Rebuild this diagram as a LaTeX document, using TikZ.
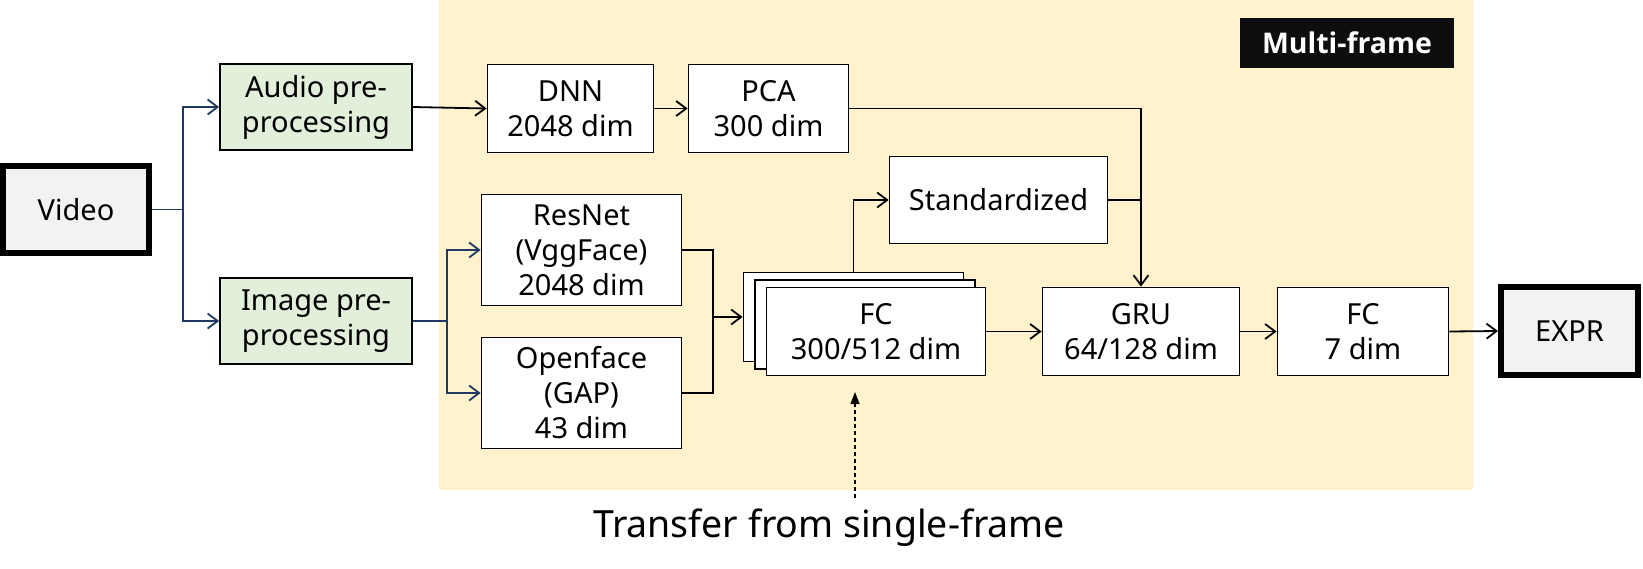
\documentclass[tikz,border=0pt]{standalone}
\usepackage{fontspec}
\setmainfont{Noto Sans}
\newfontfamily\tagfont{Open Sans}
\usetikzlibrary{arrows.meta}
\definecolor{bgyellow}{HTML}{FFF2CC}
\definecolor{prefill}{HTML}{E2EFDA}
\definecolor{iofill}{HTML}{F2F2F2}
\definecolor{navy}{HTML}{203864}
\definecolor{tagblack}{HTML}{0D0D0D}
\begin{document}
\begin{tikzpicture}[x=1pt,y=-1pt,
  every node/.style={font=\fontsize{29}{35}\selectfont, align=center, inner sep=0pt},
  blockbox/.style={draw=black, line width=1.8pt, fill=white, minimum height=88pt},
  prebox/.style={blockbox, fill=prefill, minimum width=192pt, minimum height=86pt},
  iobox/.style={draw=black, line width=6pt, fill=iofill, minimum width=140pt, minimum height=87pt},
  flow/.style={line width=1.8pt, -{Straight Barb[length=10pt,width=15pt,line width=1.8pt]}},
  plain/.style={line width=1.8pt},
  blueflow/.style={flow, draw=navy},
  blueplain/.style={plain, draw=navy}]

\useasboundingbox (0,0) rectangle (1643,568);

% Background
\fill[bgyellow] (439,0) rectangle (1473,490);
\node[fill=tagblack, text=white, font=\tagfont\bfseries\fontsize{28.5}{32}\selectfont,
      minimum width=214pt, minimum height=50pt] (tag) at (1347,43) {Multi-frame};

% Input / output
\node[iobox, minimum width=146pt] (video) at (76,209.5) {Video};
\node[iobox, minimum width=137pt, minimum height=88pt] (expr) at (1569.5,331) {EXPR};

% Pre-processing
\node[prebox] (audio) at (316,107) {Audio pre-\\processing};
\node[prebox] (image) at (316,321) {Image pre-\\processing};

% Audio branch
\node[blockbox, minimum width=166pt] (dnn) at (570.5,108.5) {DNN\\2048 dim};
\node[blockbox, minimum width=160pt] (pca) at (768.5,108.5) {PCA\\300 dim};

% Image branch
\node[blockbox, minimum width=200pt, minimum height=111pt] (resnet) at (581.5,250) {ResNet\\(VggFace)\\2048 dim};
\node[blockbox, minimum width=200pt, minimum height=111pt] (openface) at (581.5,393) {Openface\\(GAP)\\43 dim};

% FC stack
\node[blockbox, minimum width=220pt, minimum height=89pt] (fcback) at (853.5,317) {};
\node[blockbox, minimum width=220pt, minimum height=89pt] (fcmid) at (865,324.5) {};
\node[blockbox, minimum width=219pt] (fc) at (876,331.5) {FC\\300/512 dim};
\node[blockbox, minimum width=218pt, minimum height=87pt] (std) at (998.5,200) {Standardized};

\node[blockbox, minimum width=197pt] (gru) at (1141,331.5) {GRU\\64/128 dim};
\node[blockbox, minimum width=171pt] (fcout) at (1363,331.5) {FC\\7 dim};

% Transfer note
\node[anchor=base, font=\fontsize{37.5}{40}\selectfont] (xfer) at (829,537) {Transfer from single-frame};
\coordinate (xfertail) at (855,498);
\coordinate (xfertip) at (855,392);

% Split points
\coordinate (vsplit) at (183,209.5);
\coordinate (isplit) at (447,321);
\coordinate (fmerge) at (713,317);

% Connectors
\draw[blueplain] (video.east) -- (vsplit);
\draw[blueflow] (vsplit) |- (audio.west);
\draw[blueflow] (vsplit) |- (image.west);

\draw[flow] (audio.east) -- (dnn.west);
\draw[flow] (dnn.east) -- (pca.west);
\draw[flow] (pca.east) -| (gru.north);
\draw[plain] (std.east) -- (std.east -| gru.north);

\draw[blueplain] (image.east) -- (isplit);
\draw[blueflow] (isplit) |- (resnet.west);
\draw[blueflow] (isplit) |- (openface.west);

\draw[plain] (resnet.east) -| (fmerge);
\draw[plain] (openface.east) -| (fmerge);
\draw[flow] (fmerge) -- (fcback.west);
\draw[flow] (fcback.north) |- (std.west);

\draw[flow] (fc.east) -- (gru.west);
\draw[flow] (gru.east) -- (fcout.west);
\draw[flow] (fcout.east) -- (expr.west);

\draw[line width=1.2pt, dash pattern=on 4pt off 3pt, -{Triangle[length=12pt,width=9pt]}] (xfertail) -- (xfertip);
\end{tikzpicture}
\end{document}
